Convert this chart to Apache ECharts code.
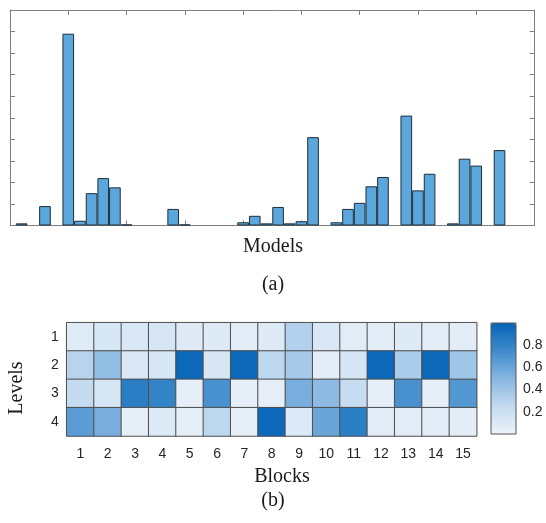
<!DOCTYPE html>
<html>
<head>
<meta charset="utf-8">
<script src="https://cdn.jsdelivr.net/npm/echarts@6/dist/echarts.min.js"></script>
<style>
  html, body { margin: 0; padding: 0; background: #fff; }
  #main { width: 546px; height: 523px; }
</style>
</head>
<body>
<div id="main"></div>
<script>
// (a) one bar per model, x position 1..44, axis runs 0..45
const xRange = [0, 45];
const models = [
  1, 2, 3, 4, 5, 6, 7, 8, 9, 10, 11, 12, 13, 14, 15, 16, 17, 18, 19, 20, 21, 22,
  23, 24, 25, 26, 27, 28, 29, 30, 31, 32, 33, 34, 35, 36, 37, 38, 39, 40, 41, 42, 43, 44
];
const modelValues = [
  0.1, 0, 0.9, 0, 8.9, 0.22, 1.5, 2.2, 1.77, 0.05,
  0, 0, 0, 0.77, 0.05, 0, 0, 0, 0, 0.15,
  0.45, 0.1, 0.86, 0.1, 0.2, 4.1, 0, 0.15, 0.77, 1.05,
  1.82, 2.25, 0, 5.1, 1.63, 2.4, 0, 0.1, 3.1, 2.78,
  0, 3.5, 0, 0
];

// (b) levels x blocks
const blocks = ['1', '2', '3', '4', '5', '6', '7', '8', '9', '10', '11', '12', '13', '14', '15'];
const levels = ['1', '2', '3', '4'];
const level1 = [0.08, 0.13, 0.11, 0.14, 0.09, 0.09, 0.07, 0.09, 0.32, 0.11, 0.07, 0.06, 0.09, 0.07, 0.06];
const level2 = [0.30, 0.45, 0.11, 0.14, 0.97, 0.12, 0.97, 0.28, 0.37, 0.06, 0.15, 0.97, 0.35, 0.97, 0.40];
const level3 = [0.25, 0.14, 0.83, 0.80, 0.04, 0.72, 0.04, 0.04, 0.55, 0.47, 0.24, 0.04, 0.72, 0.04, 0.68];
const level4 = [0.65, 0.55, 0.04, 0.10, 0.04, 0.28, 0.04, 0.97, 0.10, 0.60, 0.83, 0.07, 0.07, 0.06, 0.06];
const colorbarTicks = [0.2, 0.4, 0.6, 0.8];

const serif = '"Liberation Serif", "Times New Roman", serif';
const sans = '"Liberation Sans", Arial, sans-serif';
const frame = '#7f7f7f';

// category axis 0..45 without boundary gap, so each model sits on its integer position
const barCats = [xRange[0], ...models, xRange[1]].map(String);
const barData = ['-', ...modelValues.map(v => (v > 0 ? v : '-')), '-'];

const heatData = [];
[level1, level2, level3, level4].forEach((row, li) => {
  row.forEach((v, bi) => heatData.push([bi, li, v]));
});

const boxAxis = (pos, max, interval) => ({
  type: 'value', gridIndex: 0, position: pos, min: 0, max: max, interval: interval,
  axisLine: { show: true, onZero: false, lineStyle: { color: frame, width: 1 } },
  axisTick: { show: true, inside: true, length: 5, lineStyle: { color: frame } },
  axisLabel: { show: false },
  splitLine: { show: false }
});

const chart = echarts.init(document.getElementById('main'));
chart.setOption({
  animation: false,
  backgroundColor: '#fff',
  grid: [
    { left: 10, top: 10, width: 524.5, height: 215.5 },
    { left: 66.7, top: 322.7, width: 410, height: 113.3 },
    { left: 491, top: 323, width: 25, height: 111, show: true, z: 10,
      borderColor: '#555', borderWidth: 1, backgroundColor: 'transparent' }
  ],
  xAxis: [
    boxAxis('bottom', xRange[1], 5),
    boxAxis('top', xRange[1], 5),
    {
      type: 'category', gridIndex: 1, data: blocks,
      axisLine: { show: false }, axisTick: { show: false },
      axisLabel: { margin: 11, fontFamily: sans, fontSize: 14, color: '#262626' }
    },
    { type: 'value', gridIndex: 2, show: false },
    { type: 'category', gridIndex: 0, data: barCats, boundaryGap: false, show: false }
  ],
  yAxis: [
    boxAxis('left', 10, 1),
    boxAxis('right', 10, 1),
    {
      type: 'category', gridIndex: 1, data: levels, inverse: true,
      axisLine: { show: false }, axisTick: { show: false },
      axisLabel: { margin: 8, fontFamily: sans, fontSize: 14, color: '#262626' }
    },
    {
      type: 'value', gridIndex: 2, position: 'right', min: 0, max: 1,
      axisLine: { show: false, onZero: false },
      axisTick: { show: true, inside: true, length: 2, customValues: colorbarTicks,
        lineStyle: { color: '#555' } },
      axisLabel: { show: true, margin: 7, customValues: colorbarTicks,
        fontFamily: sans, fontSize: 14, color: '#262626',
        formatter: v => v.toFixed(1) },
      splitLine: { show: false }
    }
  ],
  visualMap: {
    type: 'continuous', seriesIndex: 1, min: 0, max: 1,
    calculable: false, text: null, padding: 0,
    left: 491, top: 323, itemWidth: 25, itemHeight: 111,
    inRange: { color: ['#ecf3fa', '#c4dbf0', '#86b6e1', '#3f8bcb', '#0563b6'] }
  },
  graphic: [
    { type: 'text', x: 273, y: 247, style: { text: 'Models', font: '20px ' + serif, fill: '#1a1a1a', align: 'center', verticalAlign: 'middle' } },
    { type: 'text', x: 273, y: 285, style: { text: '(a)', font: '20px ' + serif, fill: '#1a1a1a', align: 'center', verticalAlign: 'middle' } },
    { type: 'text', x: 17, y: 388, rotation: Math.PI / 2, style: { text: 'Levels', font: '20px ' + serif, fill: '#1a1a1a', align: 'center', verticalAlign: 'middle' } },
    { type: 'text', x: 282, y: 477, style: { text: 'Blocks', font: '20px ' + serif, fill: '#1a1a1a', align: 'center', verticalAlign: 'middle' } },
    { type: 'text', x: 273, y: 501, style: { text: '(b)', font: '20px ' + serif, fill: '#1a1a1a', align: 'center', verticalAlign: 'middle' } }
  ],
  series: [
    {
      type: 'bar', xAxisIndex: 4, yAxisIndex: 0,
      data: barData, barCategoryGap: '0%',
      itemStyle: { color: '#5ba6da', borderColor: '#1f2f3a', borderWidth: 1 },
      emphasis: { disabled: true }
    },
    {
      type: 'heatmap', xAxisIndex: 2, yAxisIndex: 2,
      data: heatData,
      itemStyle: { borderColor: '#4d4d4d', borderWidth: 1 },
      emphasis: { disabled: true }
    }
  ]
});
</script>
</body>
</html>
